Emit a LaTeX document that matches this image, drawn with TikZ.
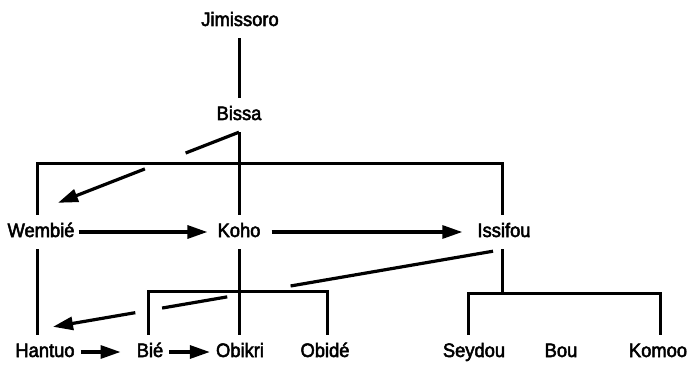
\documentclass[tikz,border=0pt]{standalone}
\usepackage{fontspec}
\setmainfont{Liberation Sans}[FakeBold=2.6, FakeStretch=0.94]
\usetikzlibrary{arrows.meta,calc}
\begin{document}
\begin{tikzpicture}[x=1pt,y=-1pt,
  person/.style={font=\fontsize{19.5}{22}\selectfont, inner xsep=6pt, inner ysep=0pt,
                 text height=14pt, text depth=4pt, minimum height=34pt},
  tie/.style={line width=3pt},
  seg/.style={line width=3.2pt},
  lead/.style={line width=3.2pt, -{Triangle[length=20pt,width=13pt]}},
]
\useasboundingbox (0,0) rectangle (692,366);

% people
\node[person] (J)       at (240,21)  {Jimissoro};
\node[person] (Bissa)   at (239,115) {Bissa};
\node[person] (Wembie)  at (41,232)  {Wembié};
\node[person] (Koho)    at (239,232) {Koho};
\node[person] (Issifou) at (504,232) {Issifou};
\node[person] (Hantuo)  at (45,352)  {Hantuo};
\node[person] (Bie)     at (150,352) {Bié};
\node[person] (Obikri)  at (240,352) {Obikri};
\node[person] (Obide)   at (325,352) {Obidé};
\node[person] (Seydou)  at (474,352) {Seydou};
\node[person] (Bou)     at (561,352) {Bou};
\node[person] (Komoo)   at (658,352) {Komoo};

% bar junctions
\coordinate (bar1) at (239,163);
\coordinate (bar2) at (239,291);
\coordinate (bar3) at (502,293);

% descent lines
\draw[tie] (J.south -| Bissa.south) -- (Bissa.north);
\draw[tie] (Bissa.south) -- (Koho.north);
\draw[tie] ([xshift=-4pt]Wembie.north) |- (bar1) -| ([xshift=-2pt]Issifou.north);
\draw[tie] ([xshift=-4pt]Wembie.south) -- ([xshift=-4pt]Wembie.south |- Hantuo.north);
\draw[tie] (Koho.south) -- (Obikri.north -| Koho.south);
\draw[tie] ([xshift=-2pt]Bie.north) |- (bar2) -| ([xshift=2pt]Obide.north);
\draw[tie] ([xshift=-2pt]Issifou.south) -- (bar3);
\draw[tie] ([xshift=-6pt]Seydou.north) |- (bar3) -| ([xshift=2pt]Komoo.north);

% succession arrows
\draw[lead, shorten <=-2pt, shorten >=4pt] (Wembie) -- (Koho);
\draw[lead, shorten <=5pt, shorten >=9pt] (Koho) -- (Issifou);
\draw[lead, shorten >=10pt] (Hantuo) -- (Bie);
\draw[lead] (Bie) -- (Obikri);

% Bissa to Wembie, broken where it crosses the bar
\coordinate (bw) at ($(Wembie.north)+(17,-12)$);
\draw[seg] (Bissa.south) -- ($(Bissa.south)!0.295!(bw)$);
\draw[lead] ($(Bissa.south)!0.52!(bw)$) -- (bw);

% Issifou to Hantuo, broken at the crossings
\coordinate (is) at ($(Issifou.south)+(-11,2)$);
\coordinate (ht) at ($(Hantuo.north)+(8,-8)$);
\draw[seg] (is) -- ($(is)!0.46!(ht)$);
\draw[seg] ($(is)!0.604!(ht)$) -- ($(is)!0.752!(ht)$);
\draw[lead] ($(is)!0.813!(ht)$) -- (ht);
\end{tikzpicture}
\end{document}
